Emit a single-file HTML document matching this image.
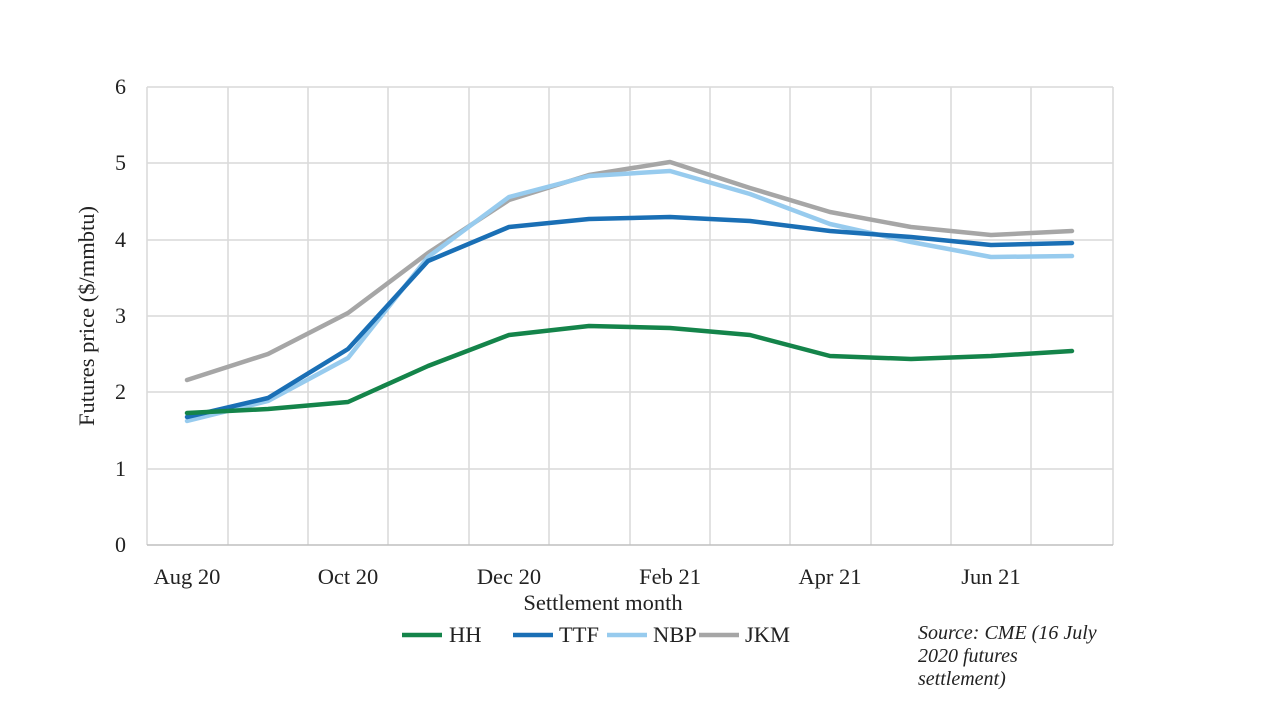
<!DOCTYPE html>
<html><head><meta charset="utf-8"><style>
body{margin:0;background:#fff;}
svg text{font-family:"Liberation Serif","DejaVu Serif",serif;fill:#222;}
</style></head><body>
<svg width="1280" height="720" xmlns="http://www.w3.org/2000/svg">
<rect width="1280" height="720" fill="#fff"/>
<g stroke="#d9d9d9" stroke-width="1.5">
<line x1="147" y1="87" x2="1113" y2="87"/>
<line x1="147" y1="163" x2="1113" y2="163"/>
<line x1="147" y1="240" x2="1113" y2="240"/>
<line x1="147" y1="316" x2="1113" y2="316"/>
<line x1="147" y1="392" x2="1113" y2="392"/>
<line x1="147" y1="469" x2="1113" y2="469"/>
<line x1="147" y1="87" x2="147" y2="545"/>
<line x1="228" y1="87" x2="228" y2="545"/>
<line x1="308" y1="87" x2="308" y2="545"/>
<line x1="388" y1="87" x2="388" y2="545"/>
<line x1="469" y1="87" x2="469" y2="545"/>
<line x1="549" y1="87" x2="549" y2="545"/>
<line x1="630" y1="87" x2="630" y2="545"/>
<line x1="710" y1="87" x2="710" y2="545"/>
<line x1="790" y1="87" x2="790" y2="545"/>
<line x1="871" y1="87" x2="871" y2="545"/>
<line x1="951" y1="87" x2="951" y2="545"/>
<line x1="1031" y1="87" x2="1031" y2="545"/>
<line x1="1113" y1="87" x2="1113" y2="545"/>
</g>
<line x1="147" y1="545" x2="1113" y2="545" stroke="#bfbfbf" stroke-width="1.5"/>
<g font-size="22" text-anchor="end">
<text x="126" y="94">6</text><text x="126" y="170">5</text><text x="126" y="247">4</text>
<text x="126" y="323">3</text><text x="126" y="399">2</text><text x="126" y="476">1</text><text x="126" y="552">0</text>
</g>
<g font-size="22.5" text-anchor="middle">
<text x="187" y="584">Aug 20</text><text x="348" y="584">Oct 20</text><text x="509" y="584">Dec 20</text>
<text x="670" y="584">Feb 21</text><text x="830" y="584">Apr 21</text><text x="991" y="584">Jun 21</text>
<text x="603" y="610">Settlement month</text>
</g>
<text transform="translate(94,316) rotate(-90)" font-size="22.5" text-anchor="middle">Futures price ($/mmbtu)</text>
<g fill="none" stroke-width="4.5" stroke-linejoin="round" stroke-linecap="round">
<polyline stroke="#a6a6a6" points="187,380 268,354 348,313 428,253 509,200 589,175 670,162 750,188 830,212 911,227 991,235 1072,231"/>
<polyline stroke="#97cbee" points="187,421 268,401 348,358 428,257 509,197 589,176 670,171 750,194 830,224 911,242 991,257 1072,256"/>
<polyline stroke="#1a6fb5" points="187,417 268,398 348,349 428,261 509,227 589,219 670,217 750,221 830,231 911,237 991,245 1072,243"/>
<polyline stroke="#14844a" points="187,413 268,409 348,402 428,366 509,335 589,326 670,328 750,335 830,356 911,359 991,356 1072,351"/>
</g>
<g stroke-width="4.5">
<line x1="402" y1="635" x2="442" y2="635" stroke="#14844a"/>
<line x1="513" y1="635" x2="553" y2="635" stroke="#1a6fb5"/>
<line x1="607" y1="635" x2="647" y2="635" stroke="#97cbee"/>
<line x1="699" y1="635" x2="739" y2="635" stroke="#a6a6a6"/>
</g>
<g font-size="22.5">
<text x="449" y="642">HH</text><text x="559" y="642">TTF</text><text x="653" y="642">NBP</text><text x="745" y="642">JKM</text>
</g>
<g font-size="20" font-style="italic">
<text x="918" y="639">Source: CME (16 July</text>
<text x="918" y="662">2020 futures</text>
<text x="918" y="685">settlement)</text>
</g>
</svg>
</body></html>
